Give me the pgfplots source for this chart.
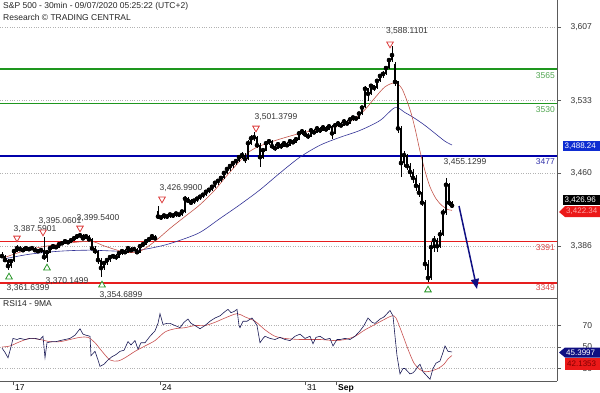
\documentclass[border=0pt]{standalone}
\usepackage{fontspec}
\setmainfont{Liberation Sans}
\usepackage{pgfplots}
\usepackage{pgfplotstable}
\pgfplotsset{compat=1.18}
\usetikzlibrary{arrows.meta}
\definecolor{lvlgreen}{RGB}{30,150,30}
\definecolor{txtgreen}{RGB}{80,165,80}
\definecolor{lvlblue}{RGB}{0,0,170}
\definecolor{txtblue}{RGB}{50,50,170}
\definecolor{lvlred}{RGB}{230,30,30}
\definecolor{txtred}{RGB}{215,70,70}
\definecolor{mared}{RGB}{195,85,75}
\definecolor{mablue}{RGB}{50,50,150}
\definecolor{rsiblue}{RGB}{25,25,85}
\definecolor{rsired}{RGB}{200,80,80}
\definecolor{trired}{RGB}{220,60,60}
\definecolor{trigreen}{RGB}{40,150,40}
\definecolor{boxblue}{RGB}{15,45,210}
\definecolor{boxnavy}{RGB}{15,15,130}
\definecolor{boxred}{RGB}{235,25,25}
\definecolor{frame}{RGB}{90,90,90}
\newcommand\lbl{\fontsize{8.5}{10}\selectfont}
\newcommand\sml{\fontsize{8}{9}\selectfont}

\pgfplotstableread{
x o h l c
2 3378 3380 3374 3376
5 3376 3377 3370 3372
8 3372 3373 3361.6 3366
11 3366 3372 3364 3371
14 3371 3383 3370 3381
17 3381 3387.6 3380 3384
20 3384 3386 3381 3383
23 3383 3385 3380 3382
26 3382 3386 3381 3384
29 3384 3385 3381 3383
32 3383 3386 3382 3384
35 3384 3385 3380 3382
38 3382 3383 3379 3381
41 3381 3384 3379 3382
44 3382 3395.06 3372 3375
47 3375 3382 3370.15 3380
50 3380 3386 3379 3384
53 3384 3388 3383 3386
56 3386 3387 3383 3385
59 3385 3390 3384 3388
62 3388 3391 3387 3389
65 3389 3393 3388 3391
68 3391 3392 3388 3390
71 3390 3394 3389 3392
74 3392 3396 3391 3394
77 3394 3398 3393 3396
80 3396 3399.54 3394 3397
83 3397 3398 3392 3394
86 3394 3397 3393 3396
89 3396 3397 3391 3393
92 3393 3394 3382 3384
95 3384 3386 3378 3381
98 3381 3382 3368 3372
101 3372 3374 3354.69 3364
104 3364 3371 3362 3369
107 3369 3374 3367 3372
110 3372 3377 3370 3375
113 3375 3378 3373 3376
116 3376 3378 3372 3375
119 3375 3381 3374 3379
122 3379 3383 3377 3381
125 3381 3383 3378 3380
128 3380 3386 3379 3384
131 3384 3385 3380 3382
134 3382 3385 3381 3383
137 3383 3384 3378 3380
140 3380 3388 3379 3386
143 3386 3390 3385 3388
146 3388 3393 3387 3391
149 3391 3395 3390 3393
152 3393 3398 3392 3396
155 3396 3397 3392 3394
158 3421 3426.99 3413 3416
161 3416 3418 3412 3415
164 3415 3419 3413 3417
167 3417 3419 3414 3416
170 3416 3420 3415 3418
173 3418 3420 3415 3417
176 3417 3421 3416 3419
179 3419 3420 3416 3418
182 3418 3423 3417 3421
185 3421 3437 3420 3434
188 3434 3436 3430 3432
191 3432 3434 3428 3430
194 3430 3434 3429 3432
197 3432 3436 3431 3434
200 3434 3438 3433 3436
203 3436 3440 3435 3438
206 3438 3443 3437 3441
209 3441 3445 3440 3443
212 3443 3448 3442 3446
215 3446 3452 3445 3450
218 3450 3454 3448 3452
221 3452 3457 3451 3455
224 3455 3462 3454 3460
227 3460 3466 3459 3464
230 3464 3469 3462 3467
233 3467 3472 3465 3470
236 3470 3474 3468 3472
239 3472 3478 3471 3476
242 3476 3481 3474 3478
245 3478 3480 3470 3474
248 3474 3493 3473 3490
251 3490 3498 3488 3495
254 3495 3501.38 3492 3496
257 3496 3497 3485 3488
260 3488 3490 3466 3476
263 3476 3485 3474 3483
266 3483 3492 3482 3490
269 3490 3494 3488 3492
272 3492 3493 3484 3487
275 3487 3489 3482 3485
278 3485 3491 3484 3489
281 3489 3490 3484 3487
284 3487 3492 3486 3490
287 3490 3491 3486 3488
290 3488 3494 3487 3492
293 3492 3494 3489 3491
296 3491 3496 3490 3494
299 3494 3502 3493 3500
302 3500 3504 3498 3502
305 3502 3503 3496 3499
308 3499 3500 3494 3497
311 3497 3505 3496 3503
314 3503 3504 3499 3501
317 3501 3507 3500 3505
320 3505 3506 3500 3503
323 3503 3508 3502 3506
326 3506 3507 3502 3504
329 3504 3509 3503 3507
332 3507 3508 3494 3500
335 3500 3510 3499 3508
338 3508 3512 3506 3510
341 3510 3511 3506 3508
344 3508 3514 3507 3512
347 3512 3513 3508 3510
350 3510 3516 3509 3514
353 3514 3518 3512 3516
356 3516 3517 3513 3515
359 3515 3522 3514 3520
362 3520 3528 3519 3526
365 3527 3548 3526 3545
368 3545 3546 3533 3540
371 3540 3550 3539 3548
374 3548 3549 3543 3546
377 3546 3555 3545 3553
380 3553 3560 3552 3558
383 3558 3563 3556 3560
386 3560 3568 3559 3566
389 3566 3576 3565 3574
392 3574 3588.11 3572 3579
395 3570 3572 3548 3552
398 3552 3553 3500 3505
401 3505 3507 3456 3470
404 3470 3482 3466 3478
407 3478 3479 3463 3467
410 3467 3470 3456 3461
413 3461 3464 3450 3455
416 3455 3458 3442 3447
419 3447 3450 3436 3440
422 3440 3476 3427 3430
425 3430 3433 3362 3368
428 3368 3372 3349.6 3354
431 3354 3390 3352 3385
434 3385 3396 3380 3392
437 3392 3394 3380 3386
440 3386 3402 3384 3398
443 3398 3424 3396 3420
446 3420 3455.13 3418 3448
449 3448 3450 3427 3430
452 3430 3432 3425 3427
}\candles

\begin{document}
\begin{tikzpicture}[x=1pt,y=1pt]
% ---------------- price panel ----------------
\begin{axis}[
  at={(0pt,94pt)}, anchor=south west, scale only axis,
  width=557pt, height=298pt,
  xmin=0, xmax=557, ymin=3333.7, ymax=3634.7,
  axis x line*=bottom, axis y line*=right,
  axis line style={frame, line width=0.7pt},
  xtick=\empty, ytick={3386,3460,3533,3607},
  ymajorgrids, grid style={dotted, line width=0.7pt, black!30},
  tick align=outside, major tick length=4pt,
  tick style={frame, line width=0.6pt},
  yticklabel style={font=\lbl, text=black!80, xshift=6pt},
  /pgf/number format/.cd, 1000 sep={,}, assume math mode=true,
  /pgfplots/.cd, clip=false,
]
% support / resistance levels
\addplot[lvlgreen, line width=1.4pt] coordinates {(0,3565) (557,3565)};
\addplot[lvlgreen, line width=1.4pt] coordinates {(0,3530) (557,3530)};
\addplot[lvlblue, line width=1.4pt] coordinates {(0,3477) (557,3477)};
\addplot[lvlred, line width=1.4pt] coordinates {(0,3391) (557,3391)};
\addplot[lvlred, line width=1.4pt] coordinates {(0,3349) (557,3349)};
% moving averages
\addplot[mablue, line width=0.6pt, smooth] coordinates {(3,3373)(30,3378)(60,3381)(90,3382)(130,3381)(160,3386)(180,3392)(200,3400)(220,3414)(240,3428)(260,3443)(280,3460)(300,3476)(320,3488)(340,3496)(360,3503)(380,3513)(395,3526)(405,3521)(415,3515)(425,3508)(435,3500)(445,3492)(452,3488.24)};
\addplot[mared, line width=0.6pt, smooth] coordinates {(3,3374)(20,3380)(40,3385)(60,3388)(90,3391)(105,3386)(125,3380)(140,3381)(155,3391)(170,3404)(185,3416)(200,3428)(215,3443)(230,3461)(250,3482)(270,3491)(300,3500)(320,3504)(340,3508)(355,3515)(365,3524)(375,3536)(385,3547)(395,3551)(402,3545)(410,3524)(415,3505)(420,3482)(425,3462)(430,3446)(436,3434)(442,3427)(448,3423)(452,3422.34)};
% candles: wicks
\addplot[only marks, mark=none, error bars/.cd, y dir=both, y explicit, error mark=none,
  error bar style={line width=0.55pt, black}]
  table[x=x, y=c, y error plus expr={\thisrow{h}-\thisrow{c}}, y error minus expr={\thisrow{c}-\thisrow{l}}] {\candles};
% candles: bodies
\addplot[only marks, mark=none, error bars/.cd, y dir=both, y explicit, error mark=none,
  error bar style={line width=1.9pt, black}]
  table[x=x, y=c, y error plus expr={max(\thisrow{o}-\thisrow{c},0)+0.4}, y error minus expr={max(\thisrow{c}-\thisrow{o},0)+0.4}] {\candles};
% swing markers
\addplot[only marks, mark=triangle*, mark size=3.8pt, mark options={rotate=180, draw=trired, fill=white, line width=0.8pt}]
  coordinates {(390,3590.3)(256,3505.4)(162,3433.7)(80,3404.4)(43,3400.4)(17,3394.3)};
\addplot[only marks, mark=triangle*, mark size=3.8pt, mark options={draw=trigreen, fill=white, line width=0.8pt}]
  coordinates {(47,3364.0)(9,3354.9)(102,3346.8)(428,3341.8)};
% arrow
\addplot[boxnavy, line width=1.5pt, -{Triangle[length=10pt,width=8pt]}] coordinates {(459,3426.6)(477,3342.8)};
% swing labels
\begin{scope}[every node/.style={font=\lbl, text=black!80, inner sep=0pt}]
\node at (axis cs:407,3603.4) {3,588.1101};
\node at (axis cs:276,3516.5) {3,501.3799};
\node at (axis cs:181,3444.8) {3,426.9900};
\node at (axis cs:98,3414.5) {3,399.5400};
\node at (axis cs:60,3411.5) {3,395.0601};
\node at (axis cs:35,3403.4) {3,387.5901};
\node at (axis cs:67,3350.9) {3,370.1499};
\node at (axis cs:28,3343.8) {3,361.6399};
\node at (axis cs:121,3336.7) {3,354.6899};
\node at (axis cs:465,3471.1) {3,455.1299};
\end{scope}
% level labels
\begin{scope}[every node/.style={font=\lbl, inner sep=0pt, anchor=east}]
\node[text=txtgreen] at (axis cs:555,3557.9) {3565};
\node[text=txtgreen] at (axis cs:555,3523.6) {3530};
\node[text=txtblue] at (axis cs:555,3471.1) {3477};
\node[text=txtred] at (axis cs:555,3384.2) {3391};
\node[text=txtred] at (axis cs:555,3343.8) {3349};
\end{scope}
\end{axis}
% ---------------- RSI panel ----------------
\begin{axis}[
  at={(0pt,11pt)}, anchor=south west, scale only axis,
  width=557pt, height=83pt,
  xmin=0, xmax=557, ymin=18.4, ymax=95.6,
  axis background/.style={fill=white},
  axis x line*=bottom, axis y line*=right,
  axis line style={frame, line width=0.7pt},
  xtick={13,160,305,336}, xticklabels={17,24,31,{\bfseries Sep}},
  ytick={30,50,70},
  ymajorgrids, grid style={dotted, line width=0.7pt, black!30},
  tick align=outside, major tick length=4pt,
  tick style={frame, line width=0.6pt},
  xticklabel shift=-1.5pt,
  xticklabel style={overlay, font=\lbl, text=black, anchor=north west, inner sep=0.5pt, xshift=1.5pt},
  yticklabel style={font=\lbl, text=black!80, xshift=18pt},
  /pgf/number format/.cd, assume math mode=true,
  /pgfplots/.cd, clip=false,
]
\draw[frame, line width=0.7pt] (rel axis cs:0,1) -- (rel axis cs:1,1);
\addplot[rsired, line width=0.6pt, smooth] coordinates {(2,50)(10,51)(20,55)(30,58)(40,57)(50,55)(60,55)(70,57)(80,59)(88,59)(95,54)(102,46)(110,38)(118,37)(125,40)(135,46)(145,51)(155,56)(165,64)(175,67)(185,68)(195,70)(205,70)(215,73)(225,77)(237,81)(245,78)(255,74)(265,66)(275,60)(285,58)(300,57)(320,57)(335,56)(345,57)(355,60)(365,66)(375,71)(385,76)(392,79)(396,77)(402,63)(408,48)(414,35)(420,29)(426,27)(432,28)(438,30)(444,34)(448,39)(452,42.1)};
\addplot[rsiblue, line width=0.6pt] coordinates {(2,49)(5,45)(8,40)(11,50)(13,58)(17,57)(20,58)(25,57)(30,58)(35,58)(40,57)(43,60)(45,40)(47,54)(52,55)(56,55)(60,56)(65,57)(70,58)(75,61)(80,67)(83,62)(86,61)(90,60)(91,42)(95,46)(98,38)(100,32)(104,34)(108,38)(112,41)(116,43)(120,46)(124,47)(128,55)(131,52)(135,56)(138,48)(141,54)(145,54)(150,60)(155,65)(158,72)(160,81)(163,71)(167,72)(170,72)(175,70)(180,68)(184,73)(188,76)(191,72)(195,70)(200,67)(205,70)(210,74)(215,77)(220,79)(225,83)(228,85)(231,82)(234,83)(237,85)(239,70)(240,68)(243,74)(247,74)(252,77)(255,73)(257,70)(260,54)(263,58)(265,60)(270,58)(275,57)(280,59)(285,57)(290,56)(295,60)(300,62)(305,58)(310,60)(313,53)(316,59)(320,60)(325,57)(330,58)(333,51)(337,57)(340,57)(345,58)(350,57)(355,60)(360,65)(364,70)(368,77)(372,73)(375,72)(380,76)(384,78)(388,82)(390,84)(393,79)(395,60)(397,42)(400,25)(403,30)(405,30)(408,27)(410,25)(413,26)(415,28)(418,32)(420,34)(423,27)(425,25)(428,22)(430,20)(433,30)(436,35)(440,37)(443,45)(445,51)(448,46)(452,45.4)};
\end{axis}
% ---------------- titles ----------------
\node[anchor=west, font=\lbl, text=black!85, inner sep=0pt] at (3,386) {S\&P 500 - 30min - 09/07/2020 05:25:22 (UTC+2)};
\node[anchor=west, font=\lbl, text=black!85, inner sep=0pt] at (3,375) {Research © TRADING CENTRAL};
\node[anchor=west, font=\lbl, text=black!85, inner sep=0pt] at (3,88) {RSI14 - 9MA};
% ---------------- last value boxes ----------------
\fill[boxblue] (563,241) rectangle (601,251);
\node[anchor=west, font=\sml, text=white, inner sep=0pt] at (564.5,246) {3,488.24};
\fill[black] (563,187) rectangle (601,197);
\node[anchor=west, font=\sml, text=white, inner sep=0pt] at (564.5,192) {3,426.96};
\fill[boxred] (559,180) -- (565,186) -- (601,186) -- (601,175) -- (565,175) -- cycle;
\node[anchor=west, font=\sml, text=red!35!white, inner sep=0pt] at (566,180.5) {3,422.34};
\fill[boxnavy] (559,39.5) -- (565,44.5) -- (601,44.5) -- (601,34.5) -- (565,34.5) -- cycle;
\node[anchor=west, font=\sml, text=white, inner sep=0pt] at (566,39.5) {45.3997};
\fill[boxred] (565,22) rectangle (601,34);
\node[anchor=west, font=\sml, text=red!50!black, inner sep=0pt] at (567,28) {42.1353};
% fix the page to the reference frame
\pgfresetboundingbox
\path[use as bounding box] (0,0) rectangle (600,392);
\end{tikzpicture}
\end{document}
